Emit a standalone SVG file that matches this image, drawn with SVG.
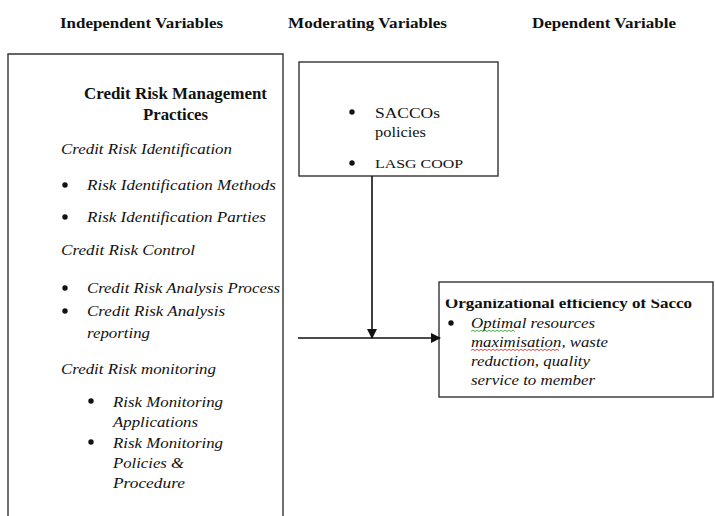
<svg xmlns="http://www.w3.org/2000/svg" width="715" height="516" viewBox="0 0 715 516">
<style>
text{font-family:"Liberation Serif","Times New Roman",serif;fill:#111}
.h{font-size:15px;font-weight:bold}
.b{font-size:16px;font-weight:bold}
.i{font-size:15.5px;font-style:italic}
.r{font-size:15px}
.box{fill:#fff;stroke:#333;stroke-width:1.4}
.ln{stroke:#111;stroke-width:1.6;fill:none}
.sq{fill:none;stroke-width:0.9}
.dot{fill:#111}
</style>
<defs>
<marker id="ah" markerWidth="10" markerHeight="10" refX="9" refY="5" orient="auto" markerUnits="userSpaceOnUse">
<path d="M0,0 L10,5 L0,10 Z" fill="#111"/>
</marker>
<clipPath id="clipTitle"><rect x="439" y="299.5" width="274" height="20"/></clipPath>
</defs>
<rect width="715" height="516" fill="#fff"/>
<g id="headers">
<text class="h" x="60" y="28" textLength="163" lengthAdjust="spacingAndGlyphs">Independent  Variables</text>
<text class="h" x="288" y="28" textLength="159" lengthAdjust="spacingAndGlyphs">Moderating Variables</text>
<text class="h" x="532" y="28" textLength="144" lengthAdjust="spacingAndGlyphs">Dependent Variable</text>
</g>
<g id="independent">
<path class="box" d="M8,517 L8,54 L283,54 L283,517"/>
<text class="b" x="84" y="99" textLength="183" lengthAdjust="spacingAndGlyphs">Credit Risk  Management</text>
<text class="b" x="143" y="120" textLength="65" lengthAdjust="spacingAndGlyphs">Practices</text>
<text class="i" x="61" y="154" textLength="171" lengthAdjust="spacingAndGlyphs">Credit Risk Identification</text>
<circle class="dot" cx="65" cy="185" r="2.7"/>
<text class="i" x="87" y="190" textLength="189" lengthAdjust="spacingAndGlyphs">Risk Identification  Methods</text>
<circle class="dot" cx="65" cy="217" r="2.7"/>
<text class="i" x="87" y="222" textLength="179" lengthAdjust="spacingAndGlyphs">Risk Identification  Parties</text>
<text class="i" x="61" y="255" textLength="134" lengthAdjust="spacingAndGlyphs">Credit Risk Control</text>
<circle class="dot" cx="65" cy="288" r="2.7"/>
<text class="i" x="87" y="293" textLength="193" lengthAdjust="spacingAndGlyphs">Credit Risk Analysis  Process</text>
<circle class="dot" cx="65" cy="311" r="2.7"/>
<text class="i" x="87" y="316" textLength="138" lengthAdjust="spacingAndGlyphs">Credit Risk Analysis</text>
<text class="i" x="87" y="338" textLength="63" lengthAdjust="spacingAndGlyphs">reporting</text>
<text class="i" x="61" y="374" textLength="155" lengthAdjust="spacingAndGlyphs">Credit Risk monitoring</text>
<circle class="dot" cx="91" cy="401" r="2.7"/>
<text class="i" x="113" y="407" textLength="110" lengthAdjust="spacingAndGlyphs">Risk Monitoring</text>
<text class="i" x="113" y="427" textLength="85" lengthAdjust="spacingAndGlyphs">Applications</text>
<circle class="dot" cx="91" cy="442" r="2.7"/>
<text class="i" x="113" y="448" textLength="110" lengthAdjust="spacingAndGlyphs">Risk Monitoring</text>
<text class="i" x="113" y="468" textLength="71" lengthAdjust="spacingAndGlyphs">Policies &amp;</text>
<text class="i" x="113" y="488" textLength="72" lengthAdjust="spacingAndGlyphs">Procedure</text>
</g>
<g id="moderating">
<rect class="box" x="299" y="62" width="199" height="114"/>
<circle class="dot" cx="352" cy="112" r="2.7"/>
<text class="r" x="375" y="118" textLength="65" lengthAdjust="spacingAndGlyphs">SACCOs</text>
<text class="r" x="375" y="137" textLength="51" lengthAdjust="spacingAndGlyphs">policies</text>
<circle class="dot" cx="352" cy="163" r="2.7"/>
<text class="r" x="375" y="168" style="font-size:13px" textLength="88" lengthAdjust="spacingAndGlyphs">LASG  COOP</text>
</g>
<g id="dependent">
<rect class="box" x="439" y="282" width="274" height="115"/>
<text clip-path="url(#clipTitle)" x="445" y="308" style="font-size:14.5px;font-weight:bold" textLength="247" lengthAdjust="spacingAndGlyphs">Organizational efficiency of Sacco</text>
<circle class="dot" cx="451" cy="323" r="2.7"/>
<text class="i" x="471" y="328" textLength="124" lengthAdjust="spacingAndGlyphs">Optimal resources</text>
<text class="i" x="471" y="347" textLength="137" lengthAdjust="spacingAndGlyphs">maximisation, waste</text>
<text class="i" x="471" y="366" textLength="119" lengthAdjust="spacingAndGlyphs">reduction, quality</text>
<text class="i" x="471" y="385" textLength="124" lengthAdjust="spacingAndGlyphs">service to member</text>
<path class="sq" stroke="#3a3" d="M471,331.5 l2,-1.2 l2,1.2 l2,-1.2 l2,1.2 l2,-1.2 l2,1.2 l2,-1.2 l2,1.2 l2,-1.2 l2,1.2 l2,-1.2 l2,1.2 l2,-1.2 l2,1.2 l2,-1.2 l2,1.2 l2,-1.2 l2,1.2 l2,-1.2 l2,1.2 l2,-1.2 l2,1.2"/>
<path class="sq" stroke="#d33" d="M471,350.5 l2,-1.2 l2,1.2 l2,-1.2 l2,1.2 l2,-1.2 l2,1.2 l2,-1.2 l2,1.2 l2,-1.2 l2,1.2 l2,-1.2 l2,1.2 l2,-1.2 l2,1.2 l2,-1.2 l2,1.2 l2,-1.2 l2,1.2 l2,-1.2 l2,1.2 l2,-1.2 l2,1.2 l2,-1.2 l2,1.2 l2,-1.2 l2,1.2 l2,-1.2 l2,1.2 l2,-1.2 l2,1.2 l2,-1.2 l2,1.2 l2,-1.2 l2,1.2 l2,-1.2 l2,1.2 l2,-1.2 l2,1.2 l2,-1.2 l2,1.2 l2,-1.2 l2,1.2 l2,-1.2 l2,1.2"/>
</g>
<g id="connectors">
<line class="ln" x1="372" y1="176" x2="372" y2="338" marker-end="url(#ah)"/>
<line class="ln" x1="298" y1="338" x2="440" y2="338" marker-end="url(#ah)"/>
</g>
</svg>
